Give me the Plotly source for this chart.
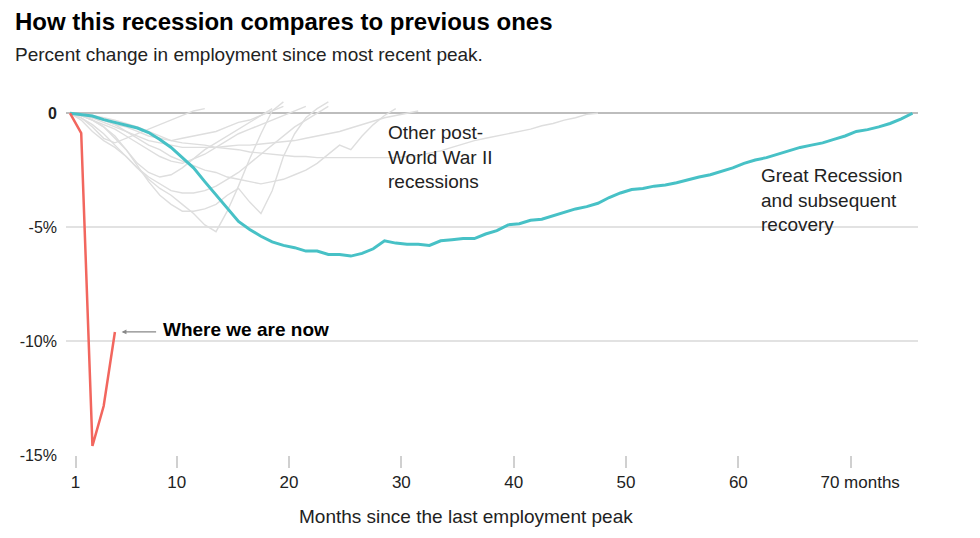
import plotly.graph_objects as go

# ---------------- data ----------------
# Months since peak (1 = peak month)
great_recession = [0, -0.05, -0.12, -0.28, -0.4, -0.5, -0.65, -0.85, -1.15, -1.5,
                   -1.95, -2.4, -3.0, -3.6, -4.2, -4.75, -5.1, -5.4, -5.65, -5.8,
                   -5.9, -6.05, -6.05, -6.2, -6.2, -6.27, -6.15, -5.95, -5.6, -5.7,
                   -5.75, -5.75, -5.8, -5.6, -5.55, -5.5, -5.5, -5.3, -5.15, -4.9,
                   -4.85, -4.7, -4.65, -4.5, -4.35, -4.2, -4.1, -3.95, -3.7, -3.5,
                   -3.35, -3.3, -3.2, -3.15, -3.05, -2.92, -2.8, -2.7, -2.55, -2.4,
                   -2.2, -2.05, -1.95, -1.8, -1.62, -1.5, -1.4, -1.3, -1.15, -1.0,
                   -0.8, -0.72, -0.6, -0.45, -0.25, 0.0]

current = [0, -0.87, -14.6, -12.85, -9.6]

other_recessions = {
    "1948": [0, -0.3, -0.8, -1.2, -1.5, -1.9, -2.4, -2.9, -3.3, -3.6, -4.0, -4.4,
             -4.9, -5.2, -4.3, -3.2, -2.0, -0.9, 0.1, 0.5],
    "1953": [0, -0.2, -0.5, -0.9, -1.4, -1.9, -2.4, -2.8, -3.1, -3.4, -3.5, -3.5,
             -3.4, -3.2, -2.9, -2.6, -2.2, -1.8, -1.4, -1.0, -0.6, -0.3, 0.0, 0.3],
    "1957": [0, -0.1, -0.3, -0.6, -1.0, -1.6, -2.3, -3.0, -3.6, -4.0, -4.3, -4.3,
             -4.2, -4.0, -3.6, -3.3, -3.9, -4.4, -3.4, -1.9, -0.9, -0.2, 0.2, 0.5],
    "1960": [0, -0.1, -0.3, -0.5, -0.7, -1.0, -1.3, -1.6, -1.9, -2.1, -2.2, -2.0,
             -1.8, -1.5, -1.2, -0.9, -0.7, -0.5, -0.3, -0.1, 0.1, 0.3],
    "1969": [0, -0.1, -0.2, -0.3, -0.5, -0.6, -0.8, -1.0, -1.1, -1.2, -1.1, -1.0,
             -0.9, -0.8, -0.6, -0.4, -0.3, -0.1, 0.1, 0.3],
    "1973": [0, -0.1, -0.3, -0.6, -1.1, -1.6, -2.2, -2.6, -2.8, -2.7, -2.4, -2.0,
             -1.6, -1.3, -1.0, -0.7, -0.4, -0.1, 0.2],
    "1980": [0, -0.2, -0.6, -1.1, -1.3, -1.1, -0.9, -0.7, -0.5, -0.3, -0.1, 0.1, 0.2],
    "1981": [0, -0.05, -0.1, -0.3, -0.5, -0.8, -1.1, -1.4, -1.6, -1.9, -2.1, -2.3,
             -2.5, -2.6, -2.8, -2.9, -3.0, -3.1, -3.0, -2.9, -2.7, -2.5, -2.2, -1.8,
             -1.4, -1.6, -1.0, -0.5, -0.1, 0.2],
    "1990": [0, -0.1, -0.2, -0.4, -0.6, -0.8, -1.0, -1.2, -1.3, -1.4, -1.5, -1.5,
             -1.5, -1.5, -1.45, -1.4, -1.4, -1.35, -1.3, -1.25, -1.2, -1.1, -1.0,
             -0.9, -0.8, -0.65, -0.5, -0.35, -0.2, -0.1, 0.0, 0.1],
    "2001": [0, -0.05, -0.1, -0.2, -0.3, -0.45, -0.6, -0.8, -1.0, -1.2, -1.3, -1.35,
             -1.4, -1.5, -1.55, -1.6, -1.7, -1.75, -1.8, -1.85, -1.9, -1.9, -1.95,
             -1.95, -1.95, -1.95, -1.95, -1.95, -1.95, -1.95, -1.9, -1.85, -1.75,
             -1.65, -1.5, -1.35, -1.2, -1.1, -1.0, -0.9, -0.8, -0.7, -0.55, -0.45,
             -0.3, -0.2, -0.05, 0.0],
}

x_tick_labels = ["1", "10", "20", "30", "40", "50", "60",
                 "\u00a0\u00a0\u00a0\u00a070 months"]
x_tick_months = [1, 10, 20, 30, 40, 50, 60, 70]
y_tick_values = [0, -5, -10, -15]
y_tick_labels = ["<b>0</b>", "-5%", "-10%", "-15%"]

TEXT = "#222222"
FONT = "Liberation Sans"

fig = go.Figure()

for name, vals in other_recessions.items():
    fig.add_trace(go.Scatter(x=list(range(1, len(vals) + 1)), y=vals, mode="lines",
                             line=dict(color="#dedede", width=1.4), name=name,
                             hoverinfo="skip", showlegend=False))

fig.add_trace(go.Scatter(x=list(range(1, len(great_recession) + 1)), y=great_recession,
                         mode="lines", line=dict(color="#47c1c6", width=3),
                         showlegend=False, name="Great Recession"))

fig.add_trace(go.Scatter(x=list(range(1, len(current) + 1)), y=current,
                         mode="lines", line=dict(color="#f2665e", width=2.5),
                         showlegend=False, name="Current"))

fig.update_layout(
    width=980, height=538,
    margin=dict(l=53, r=70, t=87, b=91),
    plot_bgcolor="white", paper_bgcolor="white",
    font=dict(family=FONT, color=TEXT, size=16),
    title=dict(text="<b>How this recession compares to previous ones</b>",
               x=7 / 980, xanchor="left", xref="container",
               y=1 - 14 / 538, yanchor="middle", yref="container",
               font=dict(size=24, color="#000000", family=FONT)),
    xaxis=dict(range=[0.646, 76.49], tickvals=[m + 0.5 for m in x_tick_months],
               ticktext=x_tick_labels, showgrid=False, zeroline=False,
               ticks="outside", ticklen=12, tickcolor="#d0d0d0", tickwidth=1.5,
               ticklabelstandoff=0,
               tickfont=dict(size=17, color=TEXT), showline=False),
    yaxis=dict(range=[-15, 0.8], tickvals=y_tick_values, ticktext=y_tick_labels,
               showgrid=True, gridcolor="#e2e2e2", gridwidth=1.5,
               zeroline=True, zerolinecolor="#bdbdbd", zerolinewidth=2,
               ticks="", tickfont=dict(size=16, color=TEXT),
               ticklabelstandoff=8, showline=False),
)

fig.add_annotation(xref="paper", yref="paper", x=-53 / 857, y=(447 - 47) / 360,
                   xanchor="left", yanchor="middle", showarrow=False,
                   text="Percent change in employment since most recent peak.",
                   font=dict(size=19, color=TEXT))

fig.add_annotation(xref="paper", yref="paper", x=0.469, y=-0.172,
                   xanchor="center", yanchor="middle", showarrow=False,
                   text="Months since the last employment peak",
                   font=dict(size=19, color=TEXT))

fig.add_annotation(x=29.1, y=-1.9, xanchor="left", yanchor="middle", align="left",
                   showarrow=False, text="Other post-<br>World War II<br>recessions",
                   font=dict(size=19, color=TEXT))

fig.add_annotation(x=62.3, y=-3.8, xanchor="left", yanchor="middle", align="left",
                   showarrow=False, text="Great Recession<br>and subsequent<br>recovery",
                   font=dict(size=19, color=TEXT))

fig.add_annotation(x=5.6, y=-9.6, ax=8.8, ay=-9.6, axref="x", ayref="y",
                   text="", showarrow=True, arrowhead=2, arrowsize=0.8,
                   arrowwidth=1.2, arrowcolor="#888888")

fig.add_annotation(x=9.07, y=-9.5, xanchor="left", yanchor="middle", showarrow=False,
                   text="<b>Where we are now</b>", font=dict(size=19, color="#000000"))

fig.write_html("out.html")
